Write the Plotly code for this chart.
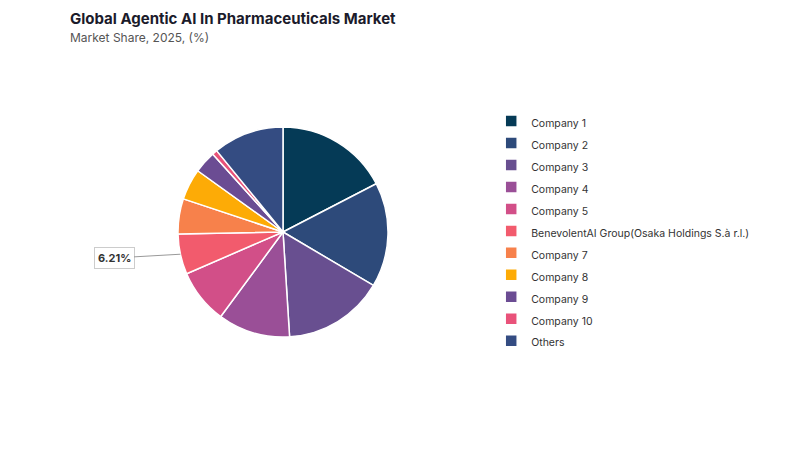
import math
import plotly.graph_objects as go

labels = ["Company 1", "Company 2", "Company 3", "Company 4", "Company 5",
          "BenevolentAI Group(Osaka Holdings S.à r.l.)", "Company 7", "Company 8",
          "Company 9", "Company 10", "Others"]
shares = [17.4, 16.1, 15.5, 11.1, 8.4, 6.21, 5.4, 4.8, 3.4, 0.8, 10.89]
colors = ["#053a56", "#2d4a7a", "#684f90", "#9a4f97", "#d24f88", "#f25b6d",
          "#f7814b", "#fdab06", "#6b4c93", "#e9527a", "#344c82"]
labelled_index = 5

W, H = 800, 450
cx, cy, r = 283, 232, 105

fig = go.Figure(go.Pie(
    labels=[f'<span style="font-size:10.5px">{l}</span>' for l in labels],
    values=shares,
    sort=False,
    direction="clockwise",
    rotation=0,
    textinfo="none",
    hoverinfo="label+percent",
    marker=dict(colors=colors, line=dict(color="white", width=1.5)),
    domain=dict(x=[(cx - r) / W, (cx + r) / W], y=[1 - (cy + r) / H, 1 - (cy - r) / H]),
))

# label for the highlighted slice, placed at its mid-angle
total = sum(shares)
start = sum(shares[:labelled_index]) / total * 360
mid = math.radians(start + shares[labelled_index] / total * 360 / 2)
px = cx + r * math.sin(mid)
py = cy - r * math.cos(mid)
fig.add_annotation(
    x=px / W, y=1 - py / H, xref="paper", yref="paper",
    text=f"<b>{shares[labelled_index]:.2f}%</b>",
    showarrow=True, arrowhead=0, arrowwidth=1, arrowcolor="#999999",
    ax=114 - px, ay=258 - py,
    bordercolor="#cccccc", borderwidth=1, borderpad=3, bgcolor="white",
    font=dict(family="Inter, Arial", size=11, color="#333333"),
)

fig.add_annotation(
    x=68 / W, y=1 - 7 / H, xref="paper", yref="paper", xanchor="left", yanchor="top",
    text="<b>Global Agentic AI In Pharmaceuticals Market</b>", showarrow=False,
    font=dict(family="Inter, Arial", size=15, color="#1b1b2b"),
)
fig.add_annotation(
    x=68 / W, y=1 - 28 / H, xref="paper", yref="paper", xanchor="left", yanchor="top",
    text="Market Share, 2025, (%)", showarrow=False,
    font=dict(family="Inter, Arial", size=12, color="#555555"),
)

fig.update_layout(
    width=W, height=H,
    margin=dict(l=0, r=0, t=0, b=0),
    paper_bgcolor="white", plot_bgcolor="white",
    showlegend=True,
    legend=dict(
        x=0.614, y=1 - 105 / H, xanchor="left", yanchor="top",
        font=dict(family="Inter, Arial", size=14.6, color="#333333"),
        itemclick=False,
    ),
)

fig.write_html("out.html")
